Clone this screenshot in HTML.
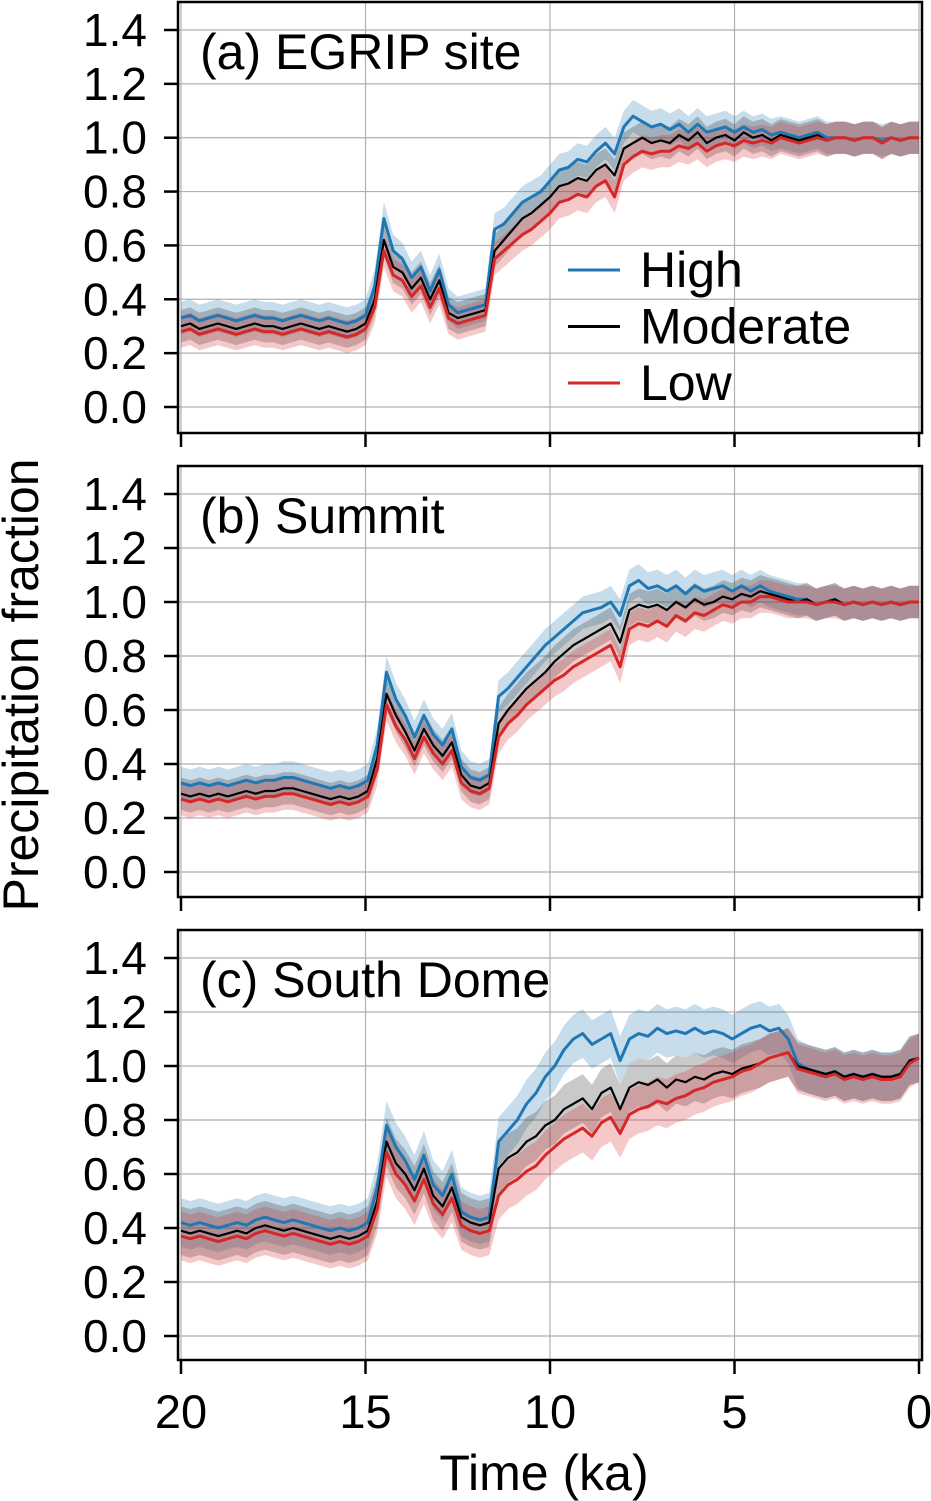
<!DOCTYPE html>
<html><head><meta charset="utf-8">
<style>
html,body{margin:0;padding:0;background:#fff;}
svg{display:block;font-family:"Liberation Sans",sans-serif;}
</style></head>
<body>
<svg id="chart" width="931" height="1501" viewBox="0 0 931 1501" xmlns="http://www.w3.org/2000/svg"></svg>
<script>
const xTicks=[20,15,10,5,0];
const yTicks=[0.0,0.2,0.4,0.6,0.8,1.0,1.2,1.4];
const panelTitles=["(a) EGRIP site","(b) Summit","(c) South Dome"];
const bandSpread=[0.06,0.06,0.09];
const highA=[0.33,0.34,0.32,0.33,0.34,0.33,0.32,0.33,0.34,0.33,0.33,0.32,0.33,0.34,0.33,0.32,0.33,0.32,0.31,0.32,0.34,0.45,0.70,0.58,0.55,0.48,0.52,0.43,0.51,0.38,0.35,0.36,0.37,0.38,0.66,0.68,0.72,0.76,0.78,0.80,0.84,0.88,0.89,0.92,0.91,0.95,0.98,0.94,1.04,1.08,1.06,1.04,1.05,1.03,1.05,1.02,1.05,1.02,1.03,1.04,1.02,1.04,1.02,1.03,1.01,1.02,1.01,1.00,1.01,1.02,1.00,1.00,1.00,0.99,1.00,1.00,0.99,1.00,0.99,1.00,1.00];
const modA=[0.30,0.31,0.29,0.30,0.31,0.30,0.29,0.30,0.31,0.30,0.30,0.29,0.30,0.31,0.30,0.29,0.30,0.29,0.28,0.29,0.31,0.40,0.62,0.52,0.50,0.44,0.48,0.40,0.47,0.35,0.33,0.34,0.35,0.36,0.58,0.62,0.66,0.70,0.72,0.75,0.78,0.82,0.83,0.85,0.84,0.88,0.90,0.86,0.96,0.98,1.00,0.98,0.99,0.98,1.01,0.99,1.02,0.98,1.00,1.01,0.99,1.02,1.00,1.01,0.99,1.01,1.00,0.99,1.00,1.01,0.99,1.00,1.00,0.99,1.00,1.00,0.98,1.00,0.99,1.00,1.00];
const lowA=[0.28,0.29,0.27,0.28,0.29,0.28,0.27,0.28,0.29,0.28,0.28,0.27,0.28,0.29,0.28,0.27,0.28,0.27,0.26,0.27,0.29,0.37,0.58,0.49,0.47,0.41,0.45,0.37,0.44,0.33,0.31,0.32,0.33,0.34,0.55,0.58,0.61,0.64,0.66,0.69,0.72,0.76,0.77,0.79,0.78,0.82,0.84,0.78,0.90,0.93,0.95,0.94,0.95,0.95,0.97,0.96,0.98,0.95,0.97,0.98,0.97,0.99,0.98,0.99,0.98,1.00,0.99,0.98,0.99,1.00,0.99,1.00,1.00,0.99,1.00,1.00,0.98,1.00,0.99,1.00,1.00];
const highB=[0.33,0.32,0.33,0.32,0.33,0.32,0.33,0.34,0.33,0.34,0.34,0.35,0.35,0.34,0.33,0.32,0.31,0.32,0.31,0.32,0.34,0.47,0.74,0.64,0.58,0.50,0.58,0.51,0.47,0.53,0.39,0.35,0.34,0.36,0.65,0.68,0.72,0.76,0.80,0.84,0.87,0.90,0.93,0.96,0.97,0.98,1.00,0.95,1.06,1.08,1.05,1.06,1.04,1.06,1.03,1.06,1.04,1.05,1.06,1.04,1.06,1.04,1.06,1.04,1.03,1.02,1.01,1.01,0.99,1.00,1.01,0.99,1.00,0.99,1.00,0.99,1.00,0.99,1.00,1.00];
const modB=[0.29,0.28,0.29,0.28,0.29,0.28,0.29,0.30,0.29,0.30,0.30,0.31,0.31,0.30,0.29,0.28,0.27,0.28,0.27,0.28,0.30,0.42,0.66,0.58,0.52,0.45,0.53,0.47,0.43,0.48,0.36,0.32,0.31,0.33,0.55,0.60,0.64,0.68,0.71,0.74,0.78,0.81,0.84,0.86,0.88,0.90,0.92,0.85,0.97,0.99,0.98,0.99,0.97,1.00,0.98,1.01,0.99,1.00,1.02,1.01,1.03,1.02,1.04,1.03,1.02,1.01,1.00,1.01,0.99,1.00,1.01,0.99,1.00,0.99,1.00,0.99,1.00,0.99,1.00,1.00];
const lowB=[0.27,0.26,0.27,0.26,0.27,0.26,0.27,0.28,0.27,0.28,0.28,0.29,0.29,0.28,0.27,0.26,0.25,0.26,0.25,0.26,0.28,0.38,0.62,0.54,0.49,0.42,0.50,0.44,0.40,0.45,0.33,0.30,0.29,0.31,0.50,0.55,0.58,0.62,0.65,0.68,0.71,0.73,0.76,0.78,0.80,0.82,0.84,0.76,0.90,0.92,0.91,0.93,0.91,0.95,0.93,0.96,0.95,0.97,0.99,0.98,1.00,1.00,1.02,1.02,1.01,1.00,1.00,1.00,0.99,1.00,1.00,0.99,1.00,0.99,1.00,0.99,1.00,0.99,1.00,1.00];
const highC=[0.42,0.41,0.42,0.41,0.40,0.41,0.42,0.41,0.43,0.44,0.43,0.42,0.43,0.42,0.41,0.40,0.39,0.40,0.39,0.40,0.42,0.55,0.78,0.70,0.65,0.58,0.67,0.56,0.52,0.60,0.46,0.44,0.43,0.44,0.72,0.76,0.80,0.86,0.90,0.96,1.00,1.06,1.10,1.12,1.08,1.10,1.12,1.02,1.10,1.12,1.11,1.14,1.12,1.13,1.12,1.14,1.12,1.13,1.12,1.10,1.12,1.14,1.15,1.13,1.14,1.10,1.01,0.99,0.98,0.97,0.98,0.96,0.97,0.96,0.97,0.96,0.96,0.97,1.02,1.03];
const modC=[0.39,0.38,0.39,0.38,0.37,0.38,0.39,0.38,0.40,0.41,0.40,0.39,0.40,0.39,0.38,0.37,0.36,0.37,0.36,0.37,0.39,0.50,0.72,0.64,0.60,0.54,0.62,0.52,0.48,0.55,0.44,0.42,0.41,0.42,0.62,0.66,0.68,0.72,0.74,0.78,0.80,0.84,0.86,0.88,0.84,0.90,0.92,0.84,0.92,0.94,0.93,0.95,0.92,0.95,0.94,0.96,0.95,0.97,0.98,0.97,0.99,1.00,1.01,1.03,1.04,1.05,1.00,0.99,0.98,0.97,0.98,0.96,0.97,0.96,0.97,0.96,0.96,0.97,1.02,1.03];
const lowC=[0.37,0.36,0.37,0.36,0.35,0.36,0.37,0.36,0.38,0.39,0.38,0.37,0.38,0.37,0.36,0.35,0.34,0.35,0.34,0.35,0.37,0.47,0.68,0.60,0.56,0.50,0.58,0.49,0.45,0.51,0.41,0.39,0.38,0.39,0.52,0.56,0.58,0.61,0.63,0.67,0.70,0.73,0.75,0.77,0.74,0.79,0.81,0.75,0.82,0.84,0.85,0.87,0.86,0.88,0.89,0.91,0.92,0.94,0.95,0.96,0.98,0.99,1.01,1.03,1.04,1.05,0.99,0.98,0.97,0.96,0.97,0.95,0.96,0.95,0.96,0.95,0.95,0.96,1.01,1.03];

const panels=[{top:2,bot:433,y0:407,y14:30,h:highA,m:modA,l:lowA},
{top:466,bot:897,y0:872,y14:494,h:highB,m:modB,l:lowB},
{top:930,bot:1360,y0:1336,y14:958,h:highC,m:modC,l:lowC}];
const NS="http://www.w3.org/2000/svg";
const svg=document.getElementById('chart');
const L=178,R=922;
function xs(t){return 181+(20-t)*(919-181)/20;}
function mk(tag,attrs,parent){const e=document.createElementNS(NS,tag);for(const k in attrs)e.setAttribute(k,attrs[k]);(parent||svg).appendChild(e);return e;}
const series=[["h","#1f77b4","rgba(31,119,180,0.25)",3],["m","#000","rgba(60,60,60,0.28)",2.2],["l","#d62728","rgba(214,39,40,0.25)",3]];
panels.forEach((p,pi)=>{
  const g=mk('g',{});
  
  
  const ys=v=>p.y0+(p.y14-p.y0)*v/1.4;
  xTicks.forEach(t=>{const ln=mk('line',{x1:xs(t),x2:xs(t),y1:p.top,y2:p.bot,stroke:'#b0b0b0','stroke-width':1.2},g);
    });
  yTicks.forEach(v=>{const ln=mk('line',{x1:L,x2:R,y1:ys(v),y2:ys(v),stroke:'#b0b0b0','stroke-width':1.2},g);
    });
  series.forEach(s=>{const arr=p[s[0]];const n=arr.length;const sp=bandSpread[pi];
    let d='';arr.forEach((v,i)=>{const t=20-i*20/(n-1);d+=(i?'L':'M')+xs(t).toFixed(1)+','+ys(v+sp).toFixed(1);});
    for(let i=n-1;i>=0;i--){const t=20-i*20/(n-1);d+='L'+xs(t).toFixed(1)+','+ys(arr[i]-sp).toFixed(1);}
    const b=mk('path',{d:d+'Z',fill:s[2],stroke:'none'},g);
    });
  series.forEach(s=>{const arr=p[s[0]];const n=arr.length;
    let d='';arr.forEach((v,i)=>{const t=20-i*20/(n-1);d+=(i?'L':'M')+xs(t).toFixed(1)+','+ys(v).toFixed(1);});
    const ln=mk('path',{d:d,fill:'none',stroke:s[1],'stroke-width':s[3],'stroke-linejoin':'round'},g);
    });
  const fr=mk('rect',{x:L,y:p.top,width:R-L,height:p.bot-p.top,fill:'none',stroke:'#000','stroke-width':2.5},g);
  
  yTicks.forEach(v=>{mk('line',{x1:164,x2:L,y1:ys(v),y2:ys(v),stroke:'#000','stroke-width':2.5},g);
    const tx=mk('text',{x:147,y:ys(v)+16,'text-anchor':'end','font-size':46},g);tx.textContent=v.toFixed(1);
    });
  xTicks.forEach(t=>{mk('line',{x1:xs(t),x2:xs(t),y1:p.bot,y2:p.bot+14,stroke:'#000','stroke-width':2.5},g);});
  const ti=mk('text',{x:200,y:p.top+67,'font-size':50},g);ti.textContent=panelTitles[pi];
  
});
xTicks.forEach(t=>{const tx=mk('text',{x:xs(t),y:1428,'text-anchor':'middle','font-size':47});tx.textContent=t;
  });
const xl=mk('text',{x:544,y:1490,'text-anchor':'middle','font-size':50});xl.textContent='Time (ka)';

const yl=mk('text',{x:0,y:0,'text-anchor':'middle','font-size':50,transform:'translate(38,685) rotate(-90)'});yl.textContent='Precipitation fraction';

const legNames=["High","Moderate","Low"];
const lg=mk('g',{});


legNames.forEach((nm,i)=>{const y=270+i*56.5;
  mk('line',{x1:568,x2:620,y1:y,y2:y,stroke:series[i][1],'stroke-width':3},lg);
  const tx=mk('text',{x:640,y:y+17,'font-size':50},lg);tx.textContent=nm;
  });
</script>
</body></html>
